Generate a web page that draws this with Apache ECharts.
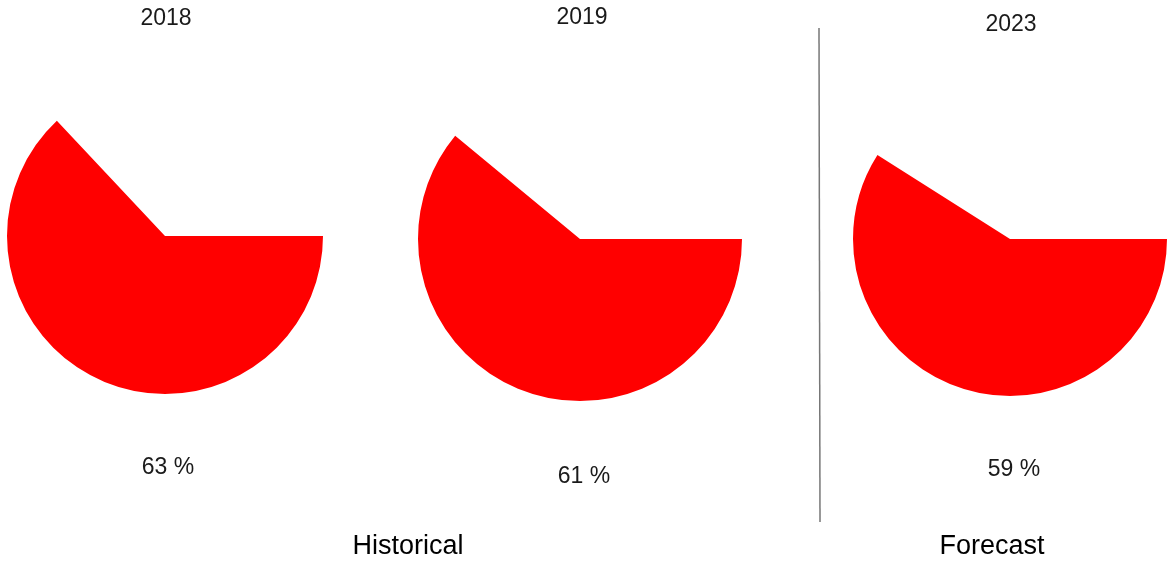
<!DOCTYPE html>
<html>
<head>
<meta charset="utf-8">
<script src="https://cdn.jsdelivr.net/npm/echarts@6/dist/echarts.min.js"></script>
<style>
  html, body { margin: 0; padding: 0; background: #ffffff; }
  #chart { width: 1167px; height: 562px; }
</style>
</head>
<body>
<div id="chart"></div>
<script>
// Share values (percent) per year
const years = ['2018', '2019', '2023'];
const shares = [63, 61, 59];
const groupLabels = ['Historical', 'Forecast'];

// Layout for each pie: centre and radius in pixels
const pieCenters = [[165, 236], [580, 239], [1010, 239]];
const pieRadii = [158, 162, 157];
const yearLabelPos = [[166, 19], [582, 18], [1011, 25]];
const shareLabelPos = [[168, 468], [584, 477], [1014, 470]];
const groupLabelPos = [[408, 547], [992, 547]];

const FONT = '"Liberation Sans", Arial, sans-serif';
const TEXT_COLOR = '#1a1a1a';

const series = years.map((y, i) => ({
  type: 'pie',
  name: y,
  center: pieCenters[i],
  radius: [0, pieRadii[i]],
  startAngle: 0,
  clockwise: true,
  silent: true,
  animation: false,
  label: { show: false },
  labelLine: { show: false },
  emphasis: { disabled: true },
  data: [
    { value: shares[i], name: y, itemStyle: { color: '#ff0000', borderWidth: 0 } },
    { value: 100 - shares[i], name: 'rest', itemStyle: { color: 'rgba(0,0,0,0)', borderWidth: 0 } }
  ]
}));

const texts = [];
years.forEach((y, i) => {
  texts.push({
    type: 'text', x: yearLabelPos[i][0], y: yearLabelPos[i][1],
    style: { text: y, font: '23px ' + FONT, fill: TEXT_COLOR, align: 'center', verticalAlign: 'middle' }
  });
  texts.push({
    type: 'text', x: shareLabelPos[i][0], y: shareLabelPos[i][1],
    style: { text: shares[i] + ' %', font: '23px ' + FONT, fill: TEXT_COLOR, align: 'center', verticalAlign: 'middle' }
  });
});
groupLabels.forEach((g, i) => {
  texts.push({
    type: 'text', x: groupLabelPos[i][0], y: groupLabelPos[i][1],
    style: { text: g, font: '27px ' + FONT, fill: '#000000', align: 'center', verticalAlign: 'middle' }
  });
});
// Divider between historical and forecast panels
texts.push({
  type: 'line',
  shape: { x1: 819, y1: 28, x2: 820, y2: 522 },
  style: { stroke: '#777777', lineWidth: 1.5 }
});

const chart = echarts.init(document.getElementById('chart'), null, { renderer: 'canvas' });
chart.setOption({
  backgroundColor: '#ffffff',
  animation: false,
  series: series,
  graphic: texts
});
</script>
</body>
</html>
